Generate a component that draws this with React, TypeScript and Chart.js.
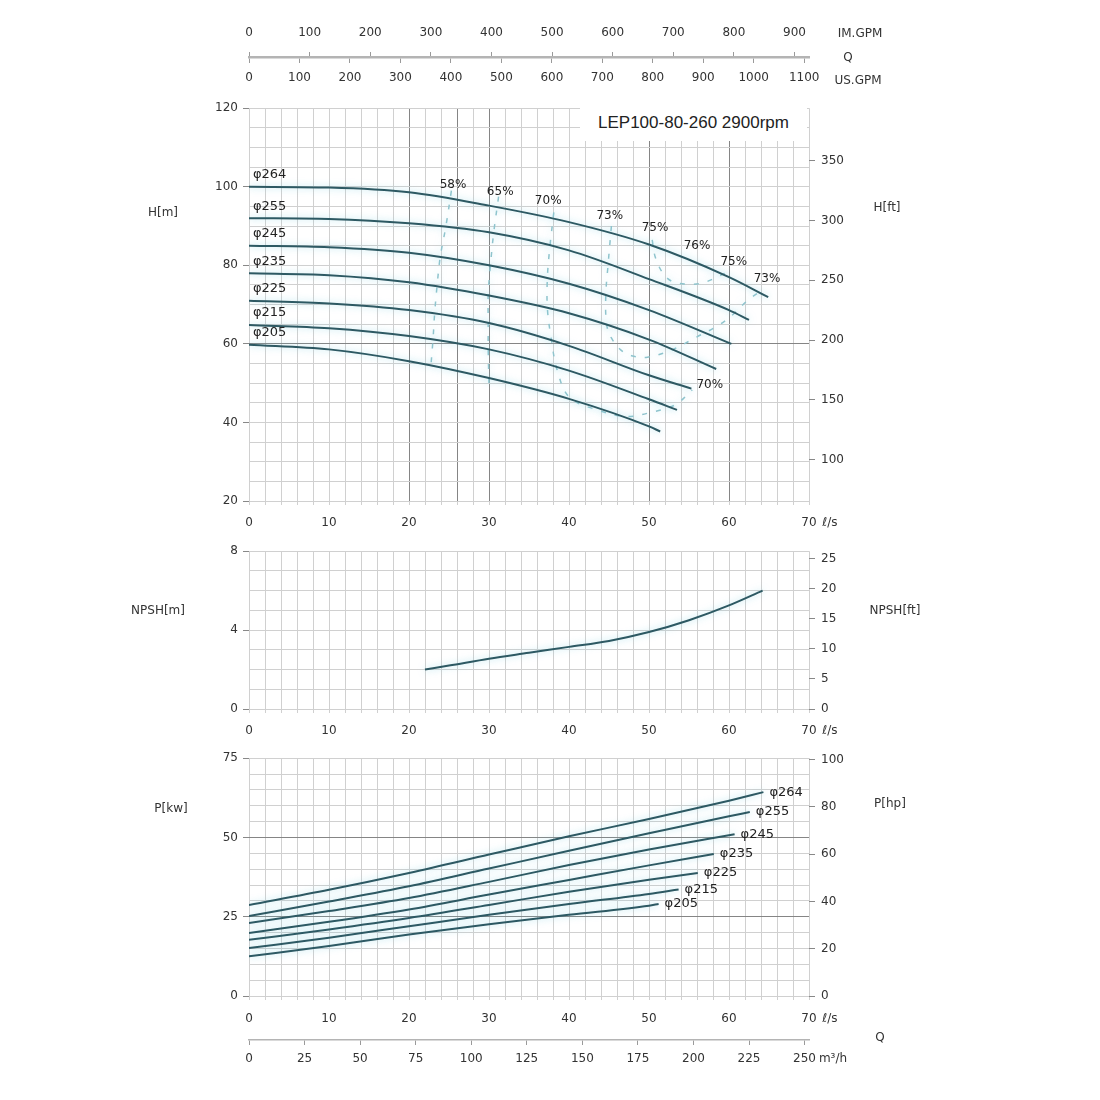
import React, { useEffect, useRef } from 'react';
import { Chart, registerables } from 'chart.js';
import type { ChartConfiguration, Plugin } from 'chart.js';

Chart.register(...registerables);

// unit conversions for the secondary axes
const M_TO_FT = 3.28084;
const LS_TO_IMP_GPM = 13.198;
const LS_TO_US_GPM = 15.85;
const LS_TO_M3H = 3.6;
const KW_TO_HP = 1.341;
const FLOW_MAX = 70; // l/s

const impellers = ['φ264', 'φ255', 'φ245', 'φ235', 'φ225', 'φ215', 'φ205'];

// Q-H curves, flow in l/s, head in m
const headFlow = [
  [0, 10, 20, 30, 40, 50, 60, 64.9],
  [0, 10, 20, 30, 40, 50, 60, 62.5],
  [0, 10, 20, 30, 40, 50, 60.3],
  [0, 10, 20, 30, 40, 50, 58.4],
  [0, 10, 20, 30, 40, 50, 55.3],
  [0, 10, 20, 30, 40, 50, 53.5],
  [0, 10, 20, 30, 40, 50, 51.4],
];
const headM = [
  [100, 99.8, 98.6, 95.2, 91.0, 85.3, 77.0, 71.9],
  [92, 91.8, 90.7, 88.4, 83.8, 76.5, 68.6, 66.1],
  [85, 84.6, 83.2, 80.0, 75.3, 68.6, 60.0],
  [78, 77.5, 75.7, 72.3, 67.8, 61.1, 53.6],
  [71, 70.3, 68.6, 65.3, 59.5, 52.0, 48.6],
  [64.8, 64.0, 62.0, 58.6, 53.2, 45.9, 43.2],
  [59.8, 58.6, 55.6, 51.3, 46.0, 39.0, 37.7],
];

// iso-efficiency lines on the Q-H field (58, 65, 70, 73, 75 %)
const effFlow = [
  [25.3, 24.6, 23.9, 23.5, 23.2, 23.0, 22.7],
  [31.2, 30.6, 30.2, 29.9, 29.9, 29.9, 30.0],
  [38.1, 37.6, 37.3, 37.3, 37.8, 38.5, 40.0, 43.5, 47.2, 50.5, 53.3, 55.4],
  [45.3, 44.9, 44.6, 44.7, 45.3, 46.5, 47.8, 49.8, 53.0, 56.0, 58.5, 60.4, 62.3, 64.2],
  [50.4, 50.8, 51.8, 53.0, 55.0, 56.5, 58.0, 59.5, 60.2],
];
const effHead = [
  [99.0, 89.8, 82.1, 74.6, 67.6, 61.1, 53.5],
  [97.5, 88.5, 80.5, 72.5, 65.3, 58.6, 49.5],
  [93.5, 84.5, 77.0, 69.0, 61.0, 53.5, 46.5, 43.2, 41.5, 42.7, 44.5, 48.3],
  [90.0, 80.5, 72.5, 65.0, 61.5, 58.4, 57.0, 56.6, 58.6, 61.8, 64.5, 67.3, 71.0, 73.8],
  [86.5, 82.0, 77.8, 75.8, 75.2, 75.4, 76.5, 78.0, 78.5],
];

// efficiency figures written in the field
const effText = ['58%', '65%', '70%', '73%', '75%', '76%', '75%', '73%', '70%'];
const effTextFlow = [25.5, 31.4, 37.4, 45.1, 50.75, 56.0, 60.6, 64.75, 57.6];
const effTextHead = [100.5, 98.75, 96.5, 92.5, 89.5, 85.0, 81.0, 76.5, 49.5];

// NPSH required
const npshFlow = [22, 25, 30, 35, 40, 45, 50, 55, 60, 64.2];
const npshM = [2.0, 2.2, 2.55, 2.85, 3.15, 3.45, 3.9, 4.5, 5.25, 6.0];

// shaft power, flow in l/s, power in kW
const powerFlow = [
  [0, 10, 20, 30, 40, 50, 60, 64.3],
  [0, 10, 20, 30, 40, 50, 60, 62.6],
  [0, 10, 20, 30, 40, 50, 60.7],
  [0, 10, 20, 30, 40, 50, 58.1],
  [0, 10, 20, 30, 40, 50, 56.1],
  [0, 10, 20, 30, 40, 50, 53.7],
  [0, 10, 20, 30, 40, 50, 51.2],
];
const powerKw = [
  [28.7, 33.5, 38.8, 44.6, 50.4, 55.8, 61.6, 64.3],
  [25.2, 29.8, 34.6, 40.2, 45.8, 51.3, 56.7, 58.0],
  [23.0, 26.8, 30.9, 36.0, 41.3, 46.2, 51.0],
  [19.9, 23.4, 27.3, 32.0, 36.6, 41.2, 44.8],
  [17.7, 21.0, 24.6, 28.7, 32.9, 36.7, 38.8],
  [15.1, 18.4, 22.0, 25.6, 29.0, 32.2, 33.6],
  [12.5, 15.8, 19.4, 22.6, 25.6, 28.5, 29.0],
];

const FONT = "'DejaVu Sans', 'Liberation Sans', sans-serif";
const INK = '#333';
const GRID = '#d0d0d0';
const GRID_DARK = '#858585';
const CURVE = '#2d5963';
const EFF = '#8fc4cd';
const PLOT_LEFT = 249;
const PLOT_RIGHT = 809;
const PAGE_W = 1100;
const tickFont = { family: FONT, size: 12 };

const pts = (xs: number[], ys: number[]) => xs.map((x, i) => ({ x, y: ys[i] }));
const last = (a: number[]) => a[a.length - 1];

type Note = { text: string; x: number; y: number; dx?: number; dy?: number; align?: CanvasTextAlign; size?: number };

const notesPlugin = (notes: Note[]): Plugin => ({
  id: 'notes',
  afterDatasetsDraw(chart) {
    const { ctx, scales } = chart;
    ctx.save();
    ctx.fillStyle = '#222';
    ctx.textBaseline = 'middle';
    notes.forEach((n) => {
      ctx.font = `${n.size ?? 13}px ${FONT}`;
      ctx.textAlign = n.align ?? 'center';
      ctx.fillText(
        n.text,
        scales.x.getPixelForValue(n.x) + (n.dx ?? 0),
        scales.y.getPixelForValue(n.y) + (n.dy ?? 0)
      );
    });
    ctx.restore();
  },
});

// soft cyan glow round the curves, as in the printed sheet
const haloPlugin: Plugin = {
  id: 'halo',
  beforeDatasetsDraw(chart) {
    chart.ctx.save();
    chart.ctx.shadowColor = 'rgba(120, 205, 225, 0.6)';
    chart.ctx.shadowBlur = 7;
  },
  afterDatasetsDraw(chart) {
    chart.ctx.restore();
  },
};

const flowAxis = (height: number, pad: number, dark: number[] = []) => ({
  type: 'linear',
  position: 'bottom',
  min: 0,
  max: FLOW_MAX,
  ticks: {
    stepSize: 2,
    autoSkip: false,
    maxRotation: 0,
    padding: pad,
    color: INK,
    font: tickFont,
    callback: (v: any) => (Number(v) % 10 === 0 ? String(v) : ''),
  },
  grid: {
    color: (c: any) => (dark.includes(c.tick?.value) ? GRID_DARK : GRID),
    tickLength: 4,
    tickColor: GRID,
  },
  border: { display: false },
  afterFit: (s: any) => {
    s.height = height;
  },
});

const valueAxis = (min: number, max: number, step: number, every: number, dark: number[] = []) => ({
  type: 'linear',
  position: 'left',
  min,
  max,
  ticks: {
    stepSize: step,
    autoSkip: false,
    padding: 5,
    color: INK,
    font: tickFont,
    callback: (v: any) => (Math.abs(Number(v) % every) < 1e-9 ? String(v) : ''),
  },
  grid: {
    color: (c: any) => (dark.includes(c.tick?.value) ? GRID_DARK : GRID),
    tickLength: 6,
    tickColor: (c: any) => (Math.abs((c.tick?.value ?? 1) % every) < 1e-9 ? '#888' : 'rgba(0,0,0,0)'),
  },
  border: { display: false },
  afterFit: (s: any) => {
    s.width = PLOT_LEFT;
  },
});

const mirrorAxis = (min: number, max: number, step: number) => ({
  type: 'linear',
  position: 'right',
  min,
  max,
  ticks: { stepSize: step, includeBounds: false, autoSkip: false, padding: 6, color: INK, font: tickFont },
  grid: { drawOnChartArea: false, tickLength: 6, color: '#888' },
  border: { display: false },
  afterFit: (s: any) => {
    s.width = PAGE_W - PLOT_RIGHT;
  },
});

const spacerAxis = (position: 'left' | 'right', width: number) => ({
  type: 'linear',
  axis: 'y',
  position,
  ticks: { display: false },
  grid: { display: false },
  border: { display: false },
  afterFit: (s: any) => {
    s.width = width;
  },
});

// flow re-expressed in another unit: round ticks from 0 up to the scale end
const unitAxis = (position: 'top' | 'bottom', max: number, step: number, height: number, pad: number, weight = 0) => ({
  type: 'linear',
  axis: 'x',
  position,
  weight,
  min: 0,
  max,
  ticks: {
    autoSkip: false,
    maxRotation: 0,
    padding: pad,
    color: INK,
    font: tickFont,
    callback: (v: any) => String(v),
  },
  grid: { drawOnChartArea: false, tickLength: 5, color: '#9a9a9a' },
  border: { display: true, color: '#b4b4b4', width: 1.5 },
  afterBuildTicks: (s: any) => {
    const ticks: { value: number }[] = [];
    for (let v = 0; v <= max; v += step) ticks.push({ value: v });
    s.ticks = ticks;
  },
  afterFit: (s: any) => {
    s.height = height;
  },
});

const baseOptions = (top: number) => ({
  animation: false,
  responsive: true,
  maintainAspectRatio: false,
  events: [],
  layout: { padding: { top, left: 0, right: 0, bottom: 0 } },
  plugins: { legend: { display: false }, tooltip: { enabled: false } },
});

const curve = (data: { x: number; y: number }[], width = 2) => ({
  data,
  showLine: true,
  borderColor: CURVE,
  borderWidth: width,
  pointRadius: 0,
  cubicInterpolationMode: 'monotone',
  fill: false,
});

const buildTop = (): ChartConfiguration =>
  ({
    type: 'scatter',
    data: { datasets: [] },
    options: {
      ...baseOptions(0),
      scales: {
        x: { display: false, min: 0, max: FLOW_MAX },
        y: { display: false, min: 0, max: 1 },
        padL: spacerAxis('left', PLOT_LEFT),
        padR: spacerAxis('right', PAGE_W - PLOT_RIGHT),
        imp: unitAxis('top', FLOW_MAX * LS_TO_IMP_GPM, 100, 47, 12),
        us: unitAxis('bottom', FLOW_MAX * LS_TO_US_GPM, 100, 37, 8),
      },
    },
  }) as any;

const buildHead = (): ChartConfiguration => {
  const notes: Note[] = [
    ...impellers.map((t, i) => ({
      text: t,
      x: headFlow[i][0],
      y: headM[i][0],
      dx: 4,
      dy: -12,
      align: 'left' as CanvasTextAlign,
    })),
    ...effText.map((t, i) => ({ text: t, x: effTextFlow[i], y: effTextHead[i], size: 12 })),
  ];
  return {
    type: 'scatter',
    data: {
      datasets: [
        ...impellers.map((_, i) => curve(pts(headFlow[i], headM[i]))),
        ...effFlow.map((q, i) => ({
          data: pts(q, effHead[i]),
          showLine: true,
          borderColor: EFF,
          borderWidth: 1.5,
          borderDash: [5, 9],
          pointRadius: 0,
          tension: 0.35,
          fill: false,
        })),
      ],
    },
    options: {
      ...baseOptions(8),
      scales: {
        x: flowAxis(37, 11, [20, 26, 30, 50, 60]),
        y: valueAxis(20, 120, 5, 20, [60]),
        yFt: mirrorAxis(20 * M_TO_FT, 120 * M_TO_FT, 50),
      },
    },
    plugins: [haloPlugin, notesPlugin(notes)],
  } as any;
};

const buildNpsh = (): ChartConfiguration =>
  ({
    type: 'scatter',
    data: { datasets: [curve(pts(npshFlow, npshM))] },
    options: {
      ...baseOptions(11),
      scales: {
        x: flowAxis(36, 11),
        y: valueAxis(0, 8, 1, 4),
        yFt: mirrorAxis(0, 8 * M_TO_FT, 5),
      },
    },
    plugins: [haloPlugin],
  }) as any;

const buildPower = (): ChartConfiguration => {
  const notes: Note[] = impellers.map((t, i) => ({
    text: t,
    x: last(powerFlow[i]),
    y: last(powerKw[i]),
    dx: 6,
    align: 'left' as CanvasTextAlign,
  }));
  return {
    type: 'scatter',
    data: { datasets: impellers.map((_, i) => curve(pts(powerFlow[i], powerKw[i]))) },
    options: {
      ...baseOptions(11),
      scales: {
        x: { ...flowAxis(44, 12), weight: 0 },
        m3h: unitAxis('bottom', FLOW_MAX * LS_TO_M3H, 25, 40, 7, 1),
        y: valueAxis(0, 75, 5, 25, [25, 50]),
        yHp: mirrorAxis(0, 75 * KW_TO_HP, 20),
      },
    },
    plugins: [haloPlugin, notesPlugin(notes)],
  } as any;
};

function ChartPanel({ top, height, build }: { top: number; height: number; build: () => ChartConfiguration }) {
  const canvasRef = useRef<HTMLCanvasElement | null>(null);

  useEffect(() => {
    if (!canvasRef.current) return;
    const chart = new Chart(canvasRef.current, build());
    return () => chart.destroy();
  }, [build]);

  return (
    <div style={{ position: 'absolute', left: 0, top, width: PAGE_W, height }}>
      <canvas ref={canvasRef} />
    </div>
  );
}

const Caption = ({ x, y, children }: { x: number; y: number; children: React.ReactNode }) => (
  <div
    style={{
      position: 'absolute',
      left: x,
      top: y,
      transform: 'translate(-50%, -50%)',
      fontFamily: FONT,
      fontSize: 12,
      lineHeight: 1,
      color: INK,
      whiteSpace: 'nowrap',
    }}
  >
    {children}
  </div>
);

export default function App() {
  return (
    <div style={{ position: 'absolute', left: 0, top: 0, width: PAGE_W, height: 1100, background: '#fff' }}>
      <ChartPanel top={10} height={85} build={buildTop} />
      <ChartPanel top={95} height={443} build={buildHead} />
      <ChartPanel top={538} height={207} build={buildNpsh} />
      <ChartPanel top={745} height={335} build={buildPower} />

      <div
        style={{
          position: 'absolute',
          left: 580,
          top: 105,
          width: 227,
          height: 36,
          background: '#fff',
          display: 'flex',
          alignItems: 'center',
          justifyContent: 'center',
          fontFamily: "'Liberation Sans', Arial, sans-serif",
          fontSize: 17,
          color: '#222',
        }}
      >
        LEP100-80-260 2900rpm
      </div>

      <Caption x={860} y={33}>IM.GPM</Caption>
      <Caption x={848} y={57}>Q</Caption>
      <Caption x={858} y={80}>US.GPM</Caption>
      <Caption x={163} y={212}>H[m]</Caption>
      <Caption x={887} y={207}>H[ft]</Caption>
      <Caption x={830} y={522}>ℓ/s</Caption>
      <Caption x={158} y={610}>NPSH[m]</Caption>
      <Caption x={895} y={610}>NPSH[ft]</Caption>
      <Caption x={830} y={730}>ℓ/s</Caption>
      <Caption x={171} y={808}>P[kw]</Caption>
      <Caption x={890} y={803}>P[hp]</Caption>
      <Caption x={830} y={1018}>ℓ/s</Caption>
      <Caption x={880} y={1037}>Q</Caption>
      <Caption x={833} y={1058}>m³/h</Caption>
    </div>
  );
}
